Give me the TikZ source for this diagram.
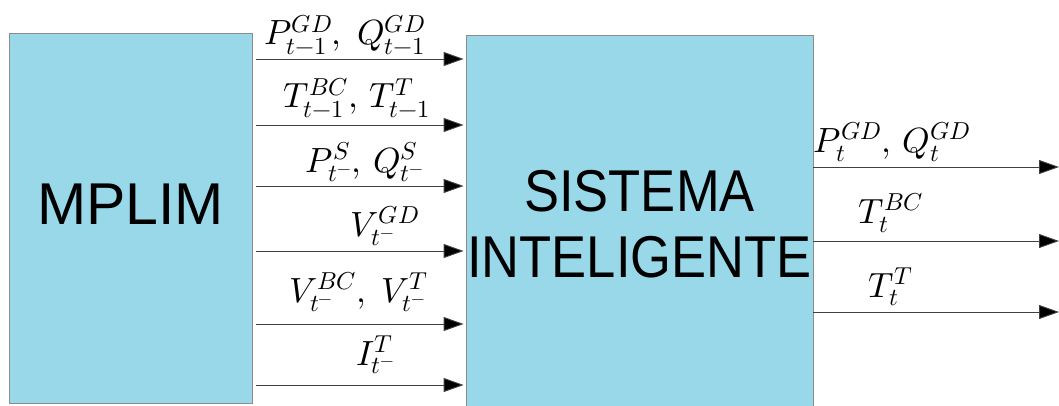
\documentclass[tikz,border=0pt]{standalone}
\usepackage{fontspec}
\usepackage{unicode-math}
\setmathfont{Latin Modern Math}
\newfontfamily\boxfont{Liberation Sans}
\usetikzlibrary{arrows.meta}
\definecolor{boxblue}{RGB}{153,216,233}
\definecolor{edgegray}{RGB}{140,140,140}
\tikzset{
  block/.style={draw=edgegray, line width=0.8bp, fill=boxblue, inner sep=0pt},
  blocktext/.style={font=\boxfont\fontsize{59bp}{66bp}\selectfont, align=center, inner sep=0pt},
  sig/.style={draw=black!75, line width=0.9bp, -{Triangle[length=20bp,width=14bp,fill=black]}},
  lbl/.style={font=\fontsize{35bp}{40bp}\selectfont, inner sep=0pt}
}
\begin{document}
\begin{tikzpicture}[x=1bp,y=-1bp]
\useasboundingbox (0,0) rectangle (1059,405);
\node[block, minimum width=243bp, minimum height=370bp] (mplim) at (130.5,218) {};
\node[blocktext] (mplimtxt) at (130.5,204) {MPLIM};
\node[block, minimum width=347bp, minimum height=372bp] (si) at (639.5,221) {};
\node[blocktext] (sitxt) at (639.5,224) {\scalebox{0.89}[1]{SISTEMA}\\\scalebox{0.89}[1]{INTELIGENTE}};
% input levels
\coordinate (i1) at (0,59);
\coordinate (i2) at (0,125);
\coordinate (i3) at (0,186);
\coordinate (i4) at (0,251);
\coordinate (i5) at (0,324);
\coordinate (i6) at (0,385);
\foreach \c in {i1,i2,i3,i4,i5,i6}{
  \draw[sig] ([xshift=4bp]mplim.east |- \c) -- ([xshift=-2bp]si.west |- \c);
}
\node[lbl] (l1) at (345,35) {$P^{GD}_{t-1},\;Q^{GD}_{t-1}$};
\node[lbl] (l2) at (357,98) {$T^{BC}_{t-1},\,T^{T}_{t-1}$};
\node[lbl] (l3) at (365,162) {$P^{S}_{t^-},\,Q^{S}_{t^-}$};
\node[lbl] (l4) at (385,226) {$V^{GD}_{t^-}$};
\node[lbl] (l5) at (359,292) {$V^{BC}_{t^-},\;V^{T}_{t^-}$};
\node[lbl] (l6) at (376,355) {$I^{T}_{t^-}$};
% outputs
\coordinate (o1) at (1059,167);
\coordinate (o2) at (1059,241);
\coordinate (o3) at (1059,312);
\foreach \c in {o1,o2,o3}{
  \draw[sig] (si.east |- \c) -- (\c);
}
\node[lbl] (r1) at (892,142) {$P^{GD}_{t},\,Q^{GD}_{t}$};
\node[lbl] (r2) at (891,213) {$T^{BC}_{t}$};
\node[lbl] (r3) at (891,287) {$T^{T}_{t}$};
\end{tikzpicture}
\end{document}
